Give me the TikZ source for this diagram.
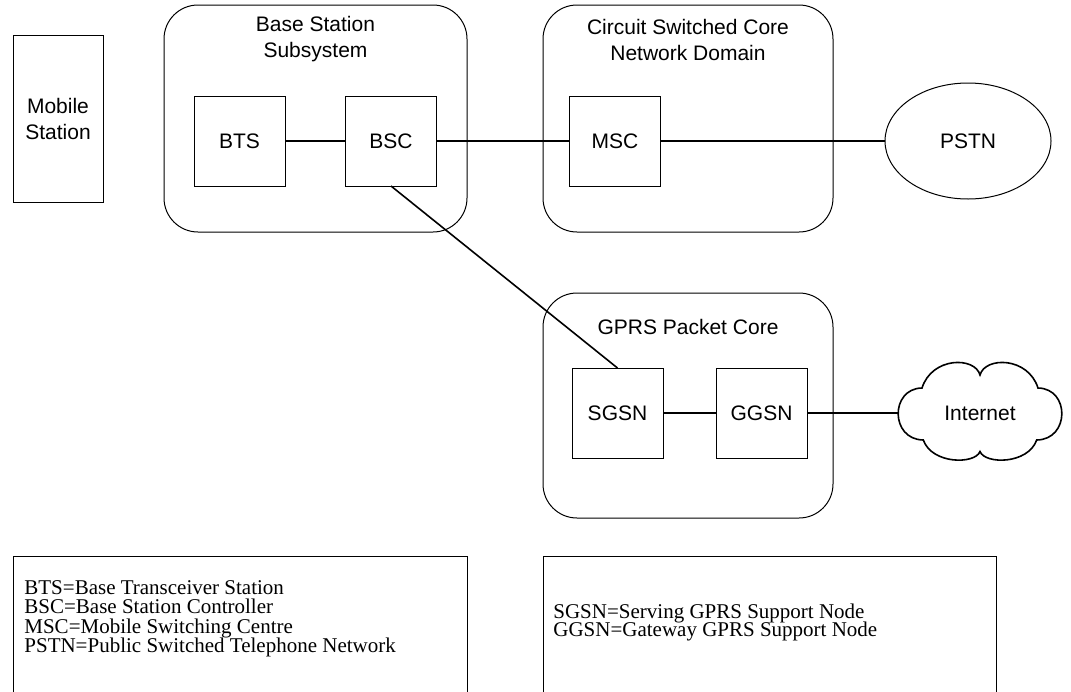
\documentclass[tikz,border=0pt]{standalone}
\usepackage{fontspec}
\setmainfont{Liberation Sans}
\newfontfamily\lgfont{Liberation Serif}
\usetikzlibrary{shapes.geometric}
\begin{document}
\begin{tikzpicture}[x=0.5pt,y=-0.5pt,
  sansf/.style={font=\fontsize{10.5pt}{13pt}\selectfont},
  blk/.style={draw,line width=0.5pt,minimum width=45.5pt,minimum height=45pt,inner sep=0pt,outer sep=0pt,sansf},
  grp/.style={draw,line width=0.5pt,rounded corners=17pt,inner sep=0pt,outer sep=0pt},
  lbl/.style={align=center,inner sep=0pt,sansf},
  link/.style={line width=0.8pt},
  lg/.style={anchor=base west,inner sep=0pt,font=\lgfont\fontsize{10.5pt}{12pt}\selectfont}]
\useasboundingbox (0,0) rectangle (1071,691);
% containers
\node[grp,minimum width=151.5pt,minimum height=113.5pt] (bss) at (315.5,118.5) {};
\node[grp,minimum width=145pt,minimum height=113.5pt] (cs) at (688,118.5) {};
\node[grp,minimum width=145pt,minimum height=112.5pt] (gprs) at (688,405.5) {};
\node[lbl] (bsst) at (315.5,39) {Base Station\\Subsystem};
\node[lbl] (cst) at (688,39.5) {Circuit Switched Core\\Network Domain};
\node[lbl] (gprst) at (688,327) {GPRS Packet Core};
% mobile station
\node[draw,line width=0.5pt,minimum width=45pt,minimum height=83.5pt,inner sep=0pt,outer sep=0pt,lbl] (ms) at (58,118.5) {Mobile\\Station};
% blocks
\node[blk] (bts) at (239.5,141) {BTS};
\node[blk] (bsc) at (391,141) {BSC};
\node[blk] (msc) at (615,141) {MSC};
\node[blk] (sgsn) at (617.5,413) {SGSN};
\node[blk] (ggsn) at (761.5,413) {GGSN};
\node[draw,ellipse,line width=0.5pt,minimum width=83pt,minimum height=58pt,inner sep=0pt,outer sep=0pt,sansf] (pstn) at (968,141) {PSTN};
% cloud
\begin{scope}[shift={(980,412.5)},yscale=-1]
\draw[line width=0.8pt] (0,37.5) .. controls (5,56) and (48,56) .. (58,24.5)
 .. controls (90,24) and (90,-27) .. (56.7,-27.5)
 .. controls (48,-52) and (5,-52) .. (0,-39)
 .. controls (-5,-52) and (-48,-52) .. (-56.7,-27.5)
 .. controls (-90,-27) and (-90,24) .. (-58,24.5)
 .. controls (-48,56) and (-5,56) .. (0,37.5) -- cycle;
\end{scope}
\node[lbl] (inet) at (980,413) {Internet};
\coordinate (inetW) at (898.3,413);
% connectors
\draw[link] (bts) -- (bsc);
\draw[link] (bsc) -- (msc);
\draw[link] (msc) -- (pstn);
\draw[link] (bsc.south) -- (sgsn.north);
\draw[link] (sgsn) -- (ggsn);
\draw[link] (ggsn) -- (inetW);
% legends
\draw[line width=0.5pt] (13,700) -- (13,556) -- (467,556) -- (467,700);
\draw[line width=0.5pt] (543,700) -- (543,556) -- (996,556) -- (996,700);
\node[lg] (l1) at (24,594) {BTS=Base Transceiver Station};
\node[lg] (l2) at (24,613.5) {BSC=Base Station Controller};
\node[lg] (l3) at (24,633) {MSC=Mobile Switching Centre};
\node[lg] (l4) at (24,652.5) {PSTN=Public Switched Telephone Network};
\node[lg] (r1) at (553,618) {SGSN=Serving GPRS Support Node};
\node[lg] (r2) at (553,636) {GGSN=Gateway GPRS Support Node};
\end{tikzpicture}
\end{document}
